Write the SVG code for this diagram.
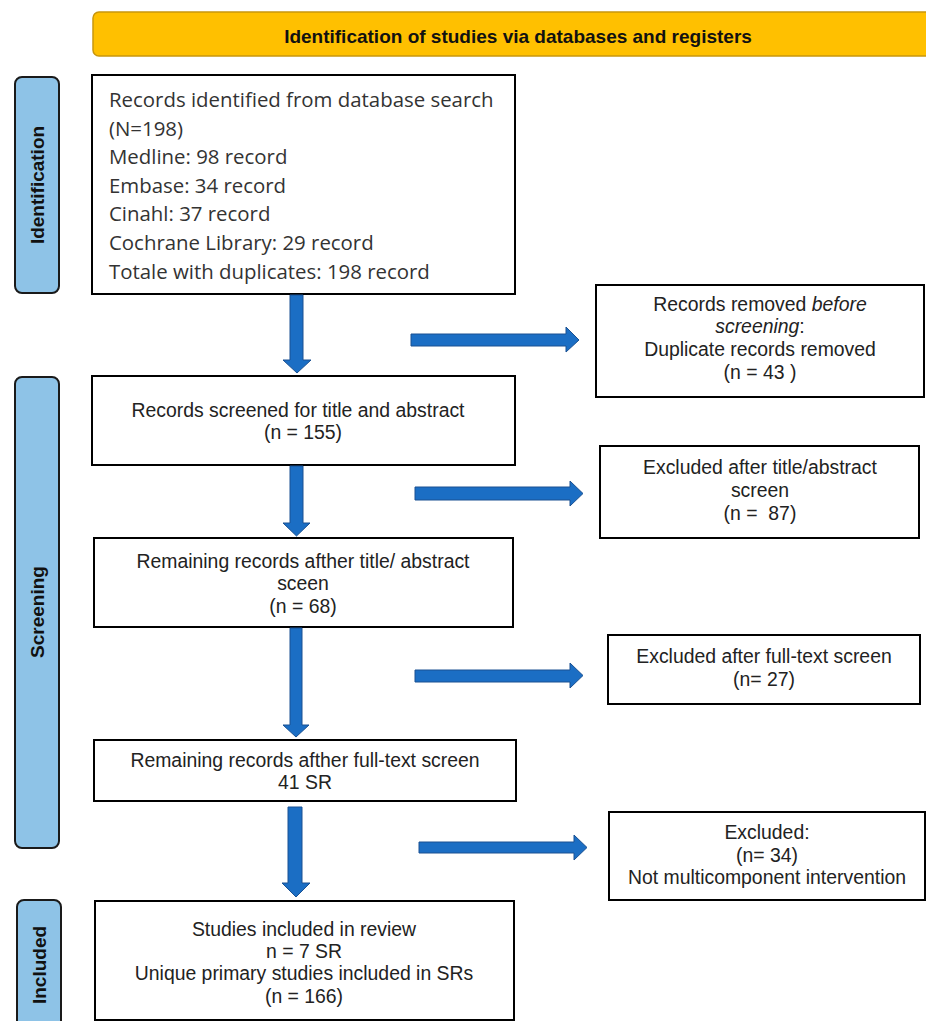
<svg xmlns="http://www.w3.org/2000/svg" width="926" height="1021" viewBox="0 0 926 1021">
<defs>
<style>
.box{fill:#fff;stroke:#000;stroke-width:2}
.side{fill:#8EC3E7;stroke:#1a1a1a;stroke-width:2}
.t{font-family:"Liberation Sans",Arial,sans-serif;font-size:19.4px;fill:#222;text-anchor:middle;white-space:pre}
.c{font-family:"Open Sans",Lato,sans-serif;font-size:20.4px;fill:#333}
.lbl{font-family:"Liberation Sans",Arial,sans-serif;font-size:19px;font-weight:bold;fill:#111;text-anchor:middle}
.arr{fill:#1B6EC4;stroke:#1A5192;stroke-width:1}
</style>
</defs>
<rect width="926" height="1021" fill="#fff"/>
<g id="header">
<rect x="93" y="12" width="850" height="44" rx="6" fill="#FFC000" stroke="#C9960C" stroke-width="1.5"/>
<text class="lbl" x="518" y="43">Identification of studies via databases and registers</text>
</g>
<g id="side-identification">
<rect class="side" x="15" y="77" width="44" height="216" rx="7"/>
<text class="lbl" transform="translate(44,185) rotate(-90)">Identification</text>
</g>
<g id="side-screening">
<rect class="side" x="15" y="377" width="44" height="471" rx="7"/>
<text class="lbl" transform="translate(44,612) rotate(-90)">Screening</text>
</g>
<g id="side-included">
<rect class="side" x="17" y="900" width="44" height="140" rx="7"/>
<text class="lbl" transform="translate(46,965) rotate(-90)">Included</text>
</g>
<g id="records-identified">
<rect class="box" x="92" y="75" width="423" height="219"/>
<text class="c" x="109" y="107">Records identified from database search</text>
<text class="c" x="109" y="136">(N=198)</text>
<text class="c" x="109" y="164">Medline: 98 record</text>
<text class="c" x="109" y="193">Embase: 34 record</text>
<text class="c" x="109" y="221">Cinahl: 37 record</text>
<text class="c" x="109" y="250">Cochrane Library: 29 record</text>
<text class="c" x="109" y="279">Totale with duplicates: 198 record</text>
</g>
<g id="records-removed">
<rect class="box" x="596" y="285" width="328" height="112"/>
<text class="t" x="760" y="311">Records removed <tspan font-style="italic">before</tspan></text>
<text class="t" x="760" y="333"><tspan font-style="italic">screening</tspan>:</text>
<text class="t" x="760" y="356">Duplicate records removed</text>
<text class="t" x="760" y="379">(n = 43 )</text>
</g>
<g id="records-screened">
<rect class="box" x="92" y="376" width="423" height="89"/>
<text class="t" x="298" y="417">Records screened for title and abstract</text>
<text class="t" x="303" y="439">(n = 155)</text>
</g>
<g id="excluded-title">
<rect class="box" x="600" y="446" width="319" height="92"/>
<text class="t" x="760" y="474">Excluded after title/abstract</text>
<text class="t" x="760" y="497">screen</text>
<text class="t" x="760" y="520">(n =  87)</text>
</g>
<g id="remaining-title">
<rect class="box" x="94" y="538" width="419" height="89"/>
<text class="t" x="303" y="568">Remaining records afther title/ abstract</text>
<text class="t" x="303" y="590">sceen</text>
<text class="t" x="303" y="613">(n = 68)</text>
</g>
<g id="excluded-fulltext">
<rect class="box" x="608" y="635" width="312" height="69"/>
<text class="t" x="764" y="663">Excluded after full-text screen</text>
<text class="t" x="764" y="686">(n= 27)</text>
</g>
<g id="remaining-fulltext">
<rect class="box" x="94" y="740" width="422" height="61"/>
<text class="t" x="305" y="767">Remaining records afther full-text screen</text>
<text class="t" x="305" y="789">41 SR</text>
</g>
<g id="excluded-final">
<rect class="box" x="609" y="812" width="316" height="88"/>
<text class="t" x="767" y="839">Excluded:</text>
<text class="t" x="767" y="862">(n= 34)</text>
<text class="t" x="767" y="884">Not multicomponent intervention</text>
</g>
<g id="included">
<rect class="box" x="95" y="901" width="419" height="119"/>
<text class="t" x="304" y="936">Studies included in review</text>
<text class="t" x="304" y="958">n = 7 SR</text>
<text class="t" x="304" y="980">Unique primary studies included in SRs</text>
<text class="t" x="304" y="1003">(n = 166)</text>
</g>
<g id="connectors">
<path class="arr" d="M290,295 H303 V360 H311 L297,373 L283,360 H290 Z"/>
<path class="arr" d="M411,334 H566 V327 L579,340 L566,352 V346 H411 Z"/>
<path class="arr" d="M290,466 H303 V523 H310 L296.5,536 L283,523 H290 Z"/>
<path class="arr" d="M415,487 H570 V481 L583,493.5 L570,506 V500 H415 Z"/>
<path class="arr" d="M290,628 H302 V725 H309 L296,737 L283,725 H290 Z"/>
<path class="arr" d="M415,670 H570 V663 L583,675.5 L570,688 V682 H415 Z"/>
<path class="arr" d="M288,807 H302 V883 H310 L296,897 L282,883 H288 Z"/>
<path class="arr" d="M419,842 H574 V835 L587,847.5 L574,860 V853 H419 Z"/>
</g>
</svg>
